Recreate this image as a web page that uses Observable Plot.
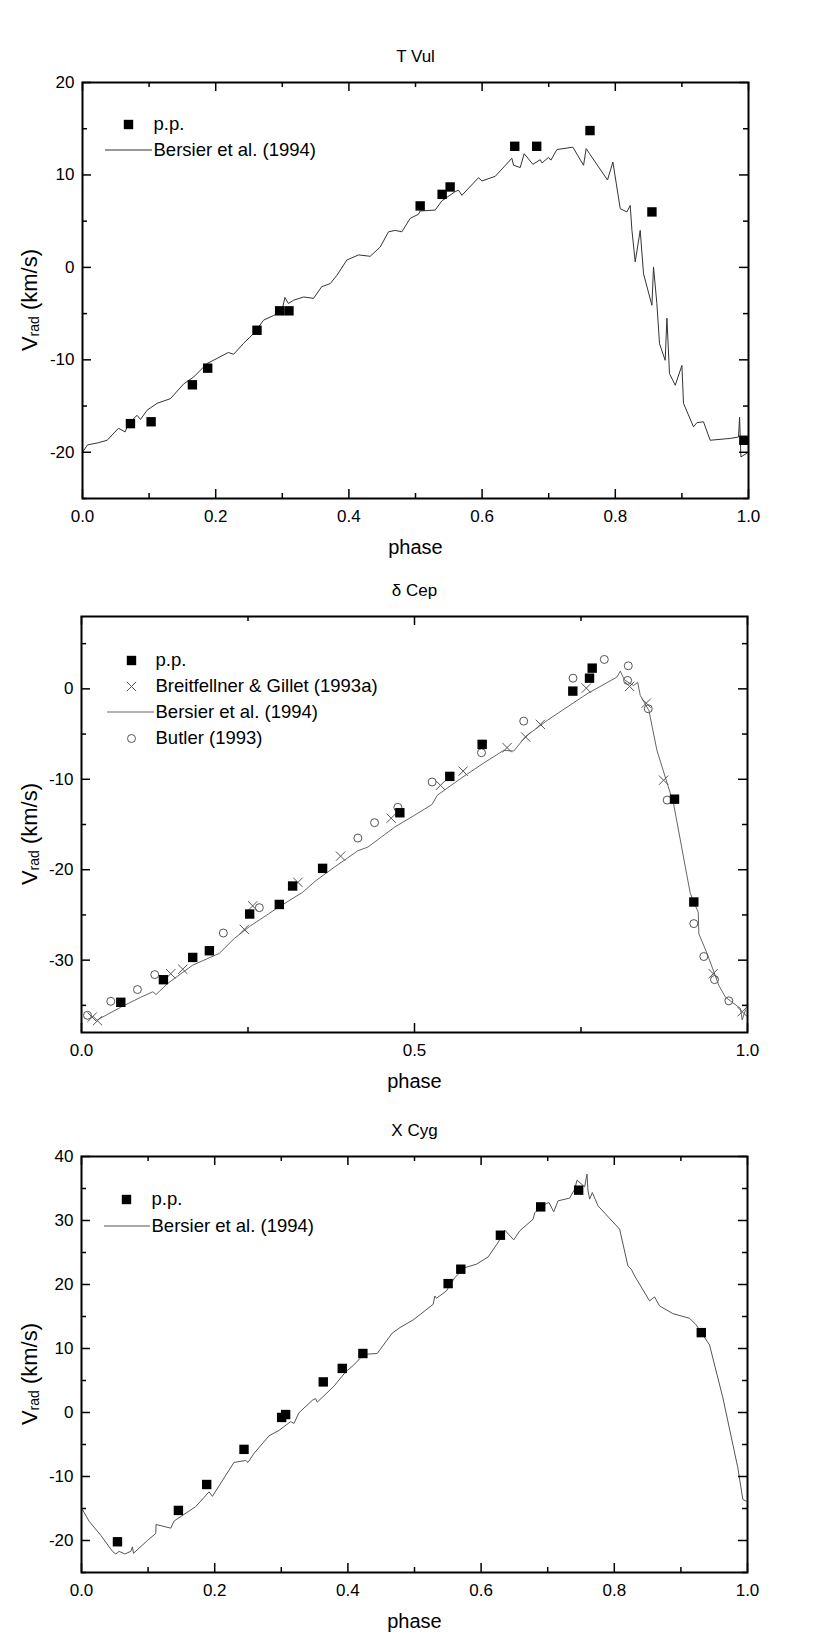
<!DOCTYPE html>
<html>
<head>
<meta charset="utf-8">
<script src="https://cdn.jsdelivr.net/npm/d3@7"></script>
<script src="https://cdn.jsdelivr.net/npm/@observablehq/plot@0.6"></script>
<style>
  html, body { margin: 0; padding: 0; background: #fff; }
  #chart { width: 830px; height: 1648px; background: #fff; }
  #chart svg { display: block; }
</style>
</head>
<body>
<div id="chart"></div>
<script>
// ---------------- T Vul ----------------
const tvulPpPhase = [0.072, 0.103, 0.165, 0.188, 0.262, 0.296, 0.310, 0.507, 0.540, 0.552, 0.649, 0.682, 0.762, 0.855, 0.993];
const tvulPpV     = [-16.9, -16.7, -12.7, -10.9, -6.8, -4.7, -4.7, 6.65, 7.9, 8.7, 13.1, 13.1, 14.8, 6.0, -18.7];
const tvulBersierPhase = [0, 0.0075, 0.022, 0.037, 0.054, 0.064, 0.069, 0.082, 0.087, 0.097, 0.112, 0.132, 0.152, 0.167, 0.187, 0.202, 0.219, 0.227, 0.242, 0.257, 0.272, 0.287, 0.299, 0.304, 0.309, 0.317, 0.332, 0.347, 0.359, 0.372, 0.382, 0.397, 0.4145, 0.432, 0.447, 0.4595, 0.4695, 0.4795, 0.492, 0.5045, 0.507, 0.5296, 0.5396, 0.5596, 0.5646, 0.5697, 0.5946, 0.5997, 0.6197, 0.6447, 0.6472, 0.6572, 0.6632, 0.6762, 0.6872, 0.69, 0.6997, 0.7033, 0.7123, 0.7363, 0.7523, 0.7563, 0.7613, 0.7883, 0.7964, 0.8074, 0.8174, 0.8224, 0.825, 0.8299, 0.8374, 0.8424, 0.855, 0.8574, 0.8624, 0.8664, 0.8749, 0.8775, 0.8814, 0.890, 0.900, 0.9024, 0.9174, 0.9225, 0.9324, 0.9425, 0.9725, 0.985, 0.9866, 0.9886, 0.9976];
const tvulBersierV = [-20.0, -19.2, -19.0, -18.7, -17.4, -17.8, -16.9, -16.0, -16.45, -15.45, -14.7, -14.2, -12.6, -11.85, -10.4, -9.85, -9.2, -9.4, -8.2, -7.15, -5.7, -5.2, -4.8, -3.25, -3.9, -3.55, -3.2, -3.35, -2.1, -1.75, -0.85, 0.8, 1.35, 1.2, 2.2, 3.85, 4.0, 3.85, 5.3, 5.75, 6.1, 6.2, 7.2, 8.2, 8.35, 7.8, 9.7, 9.35, 9.85, 11.8, 11.05, 10.8, 12.3, 11.15, 11.65, 11.3, 11.9, 11.6, 12.75, 13.0, 11.05, 12.85, 12.3, 9.45, 11.4, 6.35, 6.0, 6.7, 4.0, 0.6, 4.0, -0.7, -4.1, 0.05, -3.9, -8.25, -10.05, -5.5, -11.5, -12.75, -10.6, -14.7, -17.25, -16.8, -16.7, -18.7, -18.5, -18.35, -16.2, -20.5, -20.1];

// ---------------- delta Cep ----------------
const dcepPpPhase = [0.059, 0.123, 0.167, 0.192, 0.2525, 0.297, 0.317, 0.362, 0.478, 0.553, 0.6016, 0.7377, 0.7628, 0.7668, 0.8904, 0.9194];
const dcepPpV     = [-34.66, -32.16, -29.7, -28.96, -24.9, -23.84, -21.8, -19.85, -13.7, -9.68, -6.14, -0.25, 1.18, 2.29, -12.2, -23.57];
const dcepBgPhase = [0.016, 0.024, 0.134, 0.152, 0.2445, 0.257, 0.325, 0.389, 0.465, 0.539, 0.573, 0.639, 0.667, 0.689, 0.758, 0.823, 0.848, 0.874, 0.9485, 0.992];
const dcepBgV     = [-36.3, -36.7, -31.5, -31.0, -26.6, -24.0, -21.4, -18.5, -14.3, -10.67, -9.1, -6.5, -5.33, -3.93, 0.08, 0.27, -1.58, -10.1, -31.5, -35.7];
const dcepButlerPhase = [0.009, 0.044, 0.084, 0.110, 0.213, 0.267, 0.415, 0.440, 0.475, 0.5265, 0.6006, 0.664, 0.738, 0.785, 0.821, 0.820, 0.851, 0.8794, 0.9194, 0.9344, 0.9505, 0.972];
const dcepButlerV     = [-36.1, -34.55, -33.25, -31.6, -27.0, -24.2, -16.5, -14.8, -13.1, -10.3, -7.06, -3.57, 1.18, 3.25, 2.55, 0.93, -2.2, -12.3, -25.96, -29.6, -32.15, -34.5];
const dcepBersierPhase = [0.024, 0.059, 0.089, 0.107, 0.112, 0.129, 0.167, 0.207, 0.2295, 0.252, 0.2946, 0.332, 0.352, 0.380, 0.415, 0.43, 0.470, 0.504, 0.5266, 0.534, 0.569, 0.604, 0.634, 0.649, 0.667, 0.699, 0.759, 0.804, 0.809, 0.815, 0.829, 0.835, 0.839, 0.852, 0.864, 0.889, 0.914, 0.926, 0.927, 0.9395, 0.957, 0.967, 0.9895, 0.992, 0.997];
const dcepBersierV     = [-36.6, -35.2, -34.1, -33.5, -33.8, -32.6, -30.55, -29.25, -27.6, -26.3, -24.2, -22.5, -21.2, -19.7, -17.9, -17.5, -15.3, -13.8, -12.77, -11.78, -9.93, -8.2, -6.8, -6.88, -5.26, -3.5, -0.55, 1.3, 1.96, 1.0, 0.36, 0.73, -0.73, -2.4, -6.8, -12.7, -22.6, -24.7, -27.1, -29.3, -32.8, -34.1, -35.35, -36.6, -35.5];

// ---------------- X Cyg ----------------
const xcygPpPhase = [0.054, 0.1455, 0.188, 0.244, 0.3005, 0.3065, 0.363, 0.3915, 0.4225, 0.5505, 0.5695, 0.629, 0.6895, 0.7465, 0.9306];
const xcygPpV     = [-20.2, -15.3, -11.25, -5.76, -0.77, -0.32, 4.78, 6.89, 9.22, 20.14, 22.39, 27.7, 32.13, 34.74, 12.48];
const xcygBersierPhase = [0.0005, 0.0115, 0.029, 0.0465, 0.0515, 0.0565, 0.065, 0.074, 0.0765, 0.078, 0.099, 0.1115, 0.112, 0.134, 0.139, 0.1715, 0.1915, 0.1965, 0.229, 0.2465, 0.25, 0.259, 0.2815, 0.2965, 0.314, 0.319, 0.3265, 0.3465, 0.3515, 0.354, 0.379, 0.3965, 0.409, 0.4215, 0.4265, 0.444, 0.4665, 0.478, 0.498, 0.528, 0.5305, 0.533, 0.548, 0.5605, 0.5755, 0.593, 0.6105, 0.6255, 0.6355, 0.649, 0.658, 0.678, 0.6805, 0.698, 0.702, 0.709, 0.7155, 0.733, 0.7405, 0.744, 0.7555, 0.759, 0.7605, 0.763, 0.767, 0.7755, 0.808, 0.8205, 0.8255, 0.8305, 0.853, 0.8605, 0.868, 0.888, 0.913, 0.923, 0.943, 0.963, 0.9855, 0.993, 0.998];
const xcygBersierV     = [-15.0, -17.0, -19.2, -21.7, -22.1, -21.7, -22.1, -21.7, -21.0, -22.0, -20.0, -18.9, -17.5, -18.07, -16.96, -14.7, -12.4, -13.1, -7.8, -7.5, -7.8, -6.4, -3.65, -2.8, -1.43, -1.7, -0.04, 1.9, 2.17, 1.62, 4.1, 6.33, 7.44, 8.83, 9.1, 9.22, 12.4, 13.26, 14.46, 16.9, 18.2, 17.85, 19.0, 21.08, 22.64, 23.17, 24.3, 26.55, 28.5, 26.97, 28.38, 30.2, 31.24, 32.65, 32.8, 31.35, 33.07, 33.5, 34.9, 36.3, 35.26, 37.25, 34.64, 33.34, 34.37, 32.3, 28.64, 22.9, 22.38, 21.34, 17.43, 18.06, 16.65, 15.45, 14.72, 13.68, 10.55, 2.31, -8.64, -13.58, -13.85];

// ---------------- axes / labels ----------------
const phaseTicksFine   = [0, 0.2, 0.4, 0.6, 0.8, 1.0];
const phaseMinorFine   = [0.1, 0.3, 0.5, 0.7, 0.9];
const phaseTicksCoarse = [0, 0.5, 1.0];
const phaseMinorCoarse = [0.25, 0.75];
const tvulYTicks = [-20, -10, 0, 10, 20];
const tvulYMinor = [-25, -15, -5, 5, 15];
const dcepYTicks = [-30, -20, -10, 0];
const dcepYMinor = [-35, -25, -15, -5, 5];
const xcygYTicks = [-20, -10, 0, 10, 20, 30, 40];
const xcygYMinor = [-25, -15, -5, 5, 15, 25, 35];

const FONT = "'Liberation Sans', Arial, Helvetica, sans-serif";
const W = 830;
const idx = a => a.map((_, i) => i);

function panel(cfg) {
  const {height, mt, mb, ml, mr, yDomain, xTicks, xMinor, yTicks, yMinor, title, layers, legend, legendX} = cfg;
  const innerW = W - ml - mr, innerH = height - mt - mb;
  const MAJ = 9, MIN = 5;
  const tickStyle = {stroke: "black", strokeWidth: 1.5};
  const marks = [
    ...layers,
    Plot.frame({stroke: "black", strokeWidth: 2}),
    Plot.tickX(xTicks, {x: d => d, insetTop: innerH - MAJ, ...tickStyle}),
    Plot.tickX(xTicks, {x: d => d, insetBottom: innerH - MAJ, ...tickStyle}),
    Plot.tickX(xMinor, {x: d => d, insetTop: innerH - MIN, ...tickStyle}),
    Plot.tickX(xMinor, {x: d => d, insetBottom: innerH - MIN, ...tickStyle}),
    Plot.tickY(yTicks, {y: d => d, insetRight: innerW - MAJ, ...tickStyle}),
    Plot.tickY(yTicks, {y: d => d, insetLeft: innerW - MAJ, ...tickStyle}),
    Plot.tickY(yMinor, {y: d => d, insetRight: innerW - MIN, ...tickStyle}),
    Plot.tickY(yMinor, {y: d => d, insetLeft: innerW - MIN, ...tickStyle}),
    Plot.axisX(xTicks, {anchor: "bottom", tickSize: 0, tickPadding: 11, tickFormat: d3.format(".1f"), fontSize: 17, label: null}),
    Plot.axisY(yTicks, {anchor: "left", tickSize: 0, tickPadding: 8, tickFormat: d => String(d), fontSize: 17, label: null}),
    Plot.text([title], {frameAnchor: "top", dy: -26, lineAnchor: "middle", text: d => d, fontSize: 17}),
    Plot.text(["phase"], {frameAnchor: "bottom", dy: 49, lineAnchor: "middle", text: d => d, fontSize: 20})
  ];
  legend.forEach((item) => {
    const dy = item.dy;
    if (item.kind === "square") marks.push(Plot.dot([item.label], {frameAnchor: "top-left", dx: legendX.sym, dy, symbol: "square", r: 5.3, fill: "black", stroke: null}));
    if (item.kind === "times") marks.push(Plot.dot([item.label], {frameAnchor: "top-left", dx: legendX.sym, dy, symbol: "times", r: 4.3, stroke: "#555", strokeWidth: 1}));
    if (item.kind === "circle") marks.push(Plot.dot([item.label], {frameAnchor: "top-left", dx: legendX.sym, dy, symbol: "circle", r: 4, fill: "none", stroke: "#555", strokeWidth: 1}));
    marks.push(Plot.text([item.label], {frameAnchor: "top-left", dx: legendX.text, dy, lineAnchor: "middle", text: d => d, textAnchor: "start", fontSize: 18.5}));
  });
  const svg = Plot.plot({
    width: W, height,
    marginTop: mt, marginBottom: mb, marginLeft: ml, marginRight: mr,
    x: {domain: [0, 1]},
    y: {domain: yDomain},
    style: {fontFamily: FONT, fontSize: "17px", background: "white", color: "black", overflow: "visible"},
    marks
  });
  const s = d3.select(svg);
  // legend line sample
  legend.filter(d => d.kind === "line").forEach(item => {
    s.append("line")
      .attr("x1", ml + legendX.lineStart).attr("x2", ml + legendX.text - 1)
      .attr("y1", mt + item.dy).attr("y2", mt + item.dy)
      .attr("stroke", item.color).attr("stroke-width", 1.2);
  });
  // y-axis label with subscript
  const cy = mt + innerH / 2 + 10;
  const t = s.append("text")
    .attr("transform", `translate(37,${cy}) rotate(-90)`)
    .attr("text-anchor", "middle")
    .attr("font-family", FONT)
    .attr("font-size", 22)
    .attr("fill", "black");
  t.append("tspan").text("V");
  t.append("tspan").attr("font-size", 14).attr("dy", 2).text("rad");
  t.append("tspan").attr("dy", -2).text(" (km/s)");
  return svg;
}

const chart = document.getElementById("chart");

// Panel 1: T Vul
chart.appendChild(panel({
  height: 570, mt: 82, mb: 72, ml: 82, mr: 82,
  yDomain: [-25, 20], xTicks: phaseTicksFine, xMinor: phaseMinorFine, yTicks: tvulYTicks, yMinor: tvulYMinor,
  title: "T Vul",
  layers: [
    Plot.line(idx(tvulBersierPhase), {x: tvulBersierPhase, y: tvulBersierV, stroke: "#333", strokeWidth: 1}),
    Plot.dot(idx(tvulPpPhase), {x: tvulPpPhase, y: tvulPpV, symbol: "square", r: 5.3, fill: "black", stroke: null})
  ],
  legendX: {sym: 46, text: 71, lineStart: 23},
  legend: [
    {kind: "square", label: "p.p.", dy: 42},
    {kind: "line", label: "Bersier et al. (1994)", dy: 68, color: "#333"}
  ]
}));

// Panel 2: delta Cep
chart.appendChild(panel({
  height: 530, mt: 46, mb: 68, ml: 81, mr: 83,
  yDomain: [-38, 8], xTicks: phaseTicksCoarse, xMinor: phaseMinorCoarse, yTicks: dcepYTicks, yMinor: dcepYMinor,
  title: "δ Cep",
  layers: [
    Plot.line(idx(dcepBersierPhase), {x: dcepBersierPhase, y: dcepBersierV, stroke: "#666", strokeWidth: 1}),
    Plot.dot(idx(dcepButlerPhase), {x: dcepButlerPhase, y: dcepButlerV, symbol: "circle", r: 4, fill: "none", stroke: "#555", strokeWidth: 1}),
    Plot.dot(idx(dcepBgPhase), {x: dcepBgPhase, y: dcepBgV, symbol: "times", r: 4.3, stroke: "#555", strokeWidth: 1}),
    Plot.dot(idx(dcepPpPhase), {x: dcepPpPhase, y: dcepPpV, symbol: "square", r: 5.3, fill: "black", stroke: null})
  ],
  legendX: {sym: 50, text: 74, lineStart: 26},
  legend: [
    {kind: "square", label: "p.p.", dy: 44},
    {kind: "times", label: "Breitfellner & Gillet (1993a)", dy: 70},
    {kind: "line", label: "Bersier et al. (1994)", dy: 96, color: "#666"},
    {kind: "circle", label: "Butler (1993)", dy: 122}
  ]
}));

// Panel 3: X Cyg
chart.appendChild(panel({
  height: 548, mt: 56, mb: 76, ml: 81, mr: 83,
  yDomain: [-25, 40], xTicks: phaseTicksFine, xMinor: phaseMinorFine, yTicks: xcygYTicks, yMinor: xcygYMinor,
  title: "X Cyg",
  layers: [
    Plot.line(idx(xcygBersierPhase), {x: xcygBersierPhase, y: xcygBersierV, stroke: "#555", strokeWidth: 1}),
    Plot.dot(idx(xcygPpPhase), {x: xcygPpPhase, y: xcygPpV, symbol: "square", r: 5.3, fill: "black", stroke: null})
  ],
  legendX: {sym: 45, text: 70, lineStart: 23},
  legend: [
    {kind: "square", label: "p.p.", dy: 43},
    {kind: "line", label: "Bersier et al. (1994)", dy: 70, color: "#555"}
  ]
}));
</script>
</body>
</html>
